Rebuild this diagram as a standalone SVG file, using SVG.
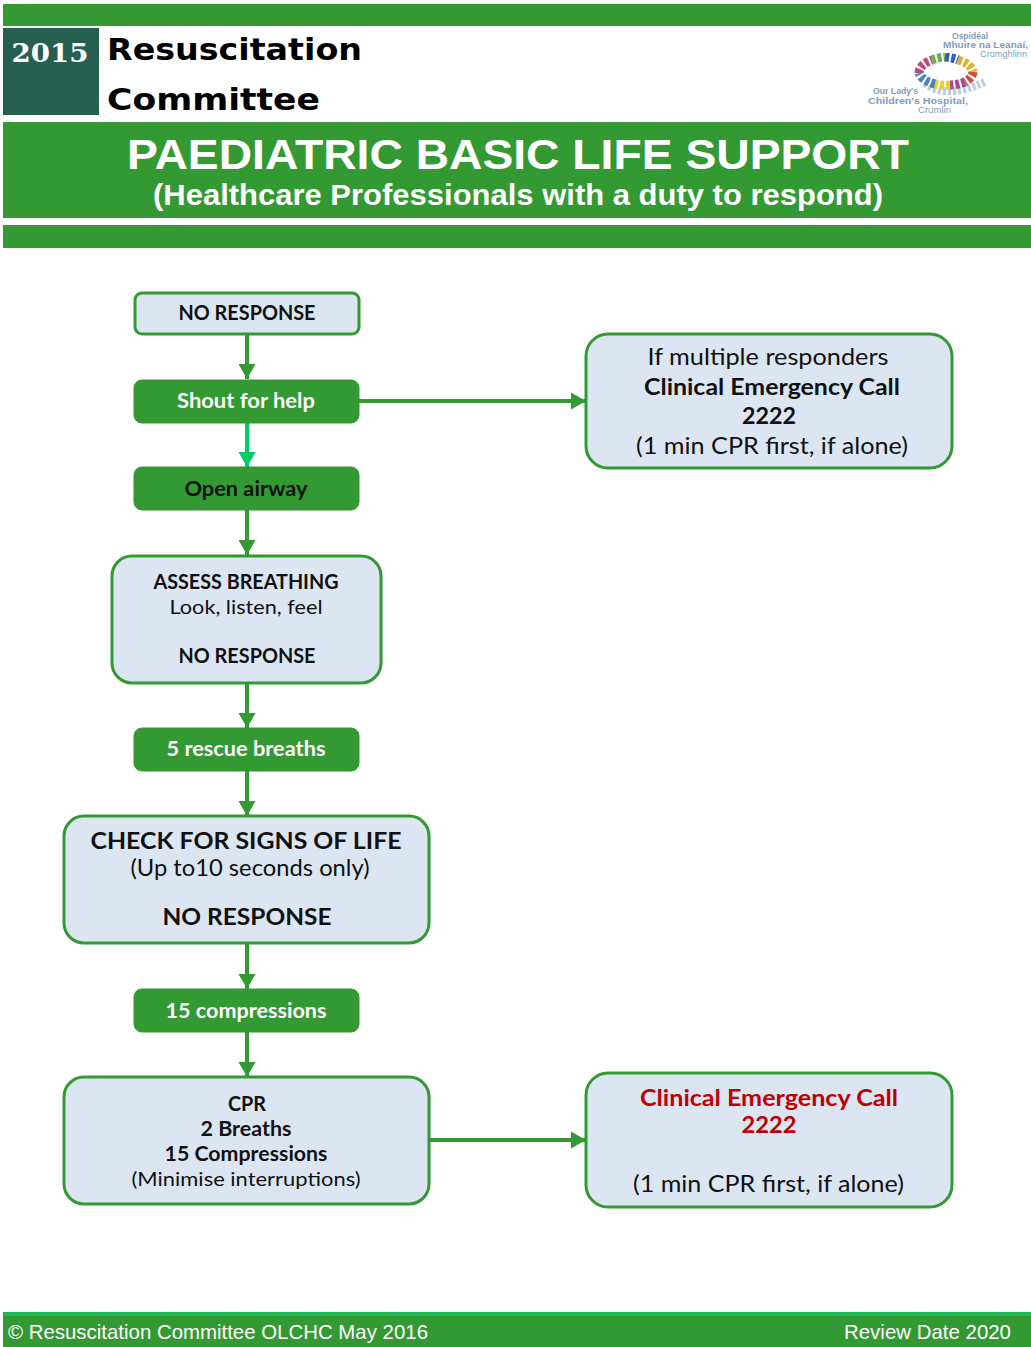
<svg xmlns="http://www.w3.org/2000/svg" width="1031" height="1347" viewBox="0 0 1031 1347">
<style>
.band{fill:#339933}
.lt{fill:#dce6f2;stroke:#339933;stroke-width:3}
.dk{fill:#339933;stroke:#339933;stroke-width:1}
text{font-family:"Lato","Liberation Sans",sans-serif;text-anchor:middle;fill:#111}
.b{font-weight:700}
.w{fill:#fff}
.c{stroke:#339933;stroke-width:4;fill:none}
.s20{font-size:20px}
.s24{font-size:23px}
.logo{font-family:"Liberation Sans",sans-serif;font-size:8.5px;fill:#7f9cc0;text-anchor:start}
</style>
<defs>
<marker id="a" markerUnits="userSpaceOnUse" markerWidth="16" markerHeight="18" refX="15" refY="9" orient="auto"><path d="M0 0.5L15 9L0 17.5Z" fill="#339933"/></marker>
<marker id="g" markerUnits="userSpaceOnUse" markerWidth="16" markerHeight="18" refX="15" refY="9" orient="auto"><path d="M0 0.5L15 9L0 17.5Z" fill="#00cc66"/></marker>
<filter id="soft" x="-10%" y="-10%" width="120%" height="120%"><feGaussianBlur stdDeviation="0.7"/></filter>
</defs>
<rect width="1031" height="1347" fill="#fff"/>
<g id="header">
<rect class="band" x="3" y="4" width="1028" height="22"/>
<rect x="3" y="28" width="96" height="87" fill="#265f50"/>
<text x="50" y="62" style="font-family:'DejaVu Serif','Liberation Serif',serif;font-weight:700;font-size:26px" class="w" textLength="77" lengthAdjust="spacingAndGlyphs">2015</text>
<text x="107" y="60" style="font-family:'DejaVu Sans',sans-serif;font-weight:700;font-size:31px;text-anchor:start;fill:#000" textLength="255" lengthAdjust="spacingAndGlyphs">Resuscitation</text>
<text x="107" y="110" style="font-family:'DejaVu Sans',sans-serif;font-weight:700;font-size:31px;text-anchor:start;fill:#000" textLength="213" lengthAdjust="spacingAndGlyphs">Committee</text>
<rect class="band" x="3" y="122" width="1028" height="96"/>
<text x="518" y="169" class="w" style="font-family:'Liberation Sans',sans-serif;font-weight:700;font-size:42px" textLength="782" lengthAdjust="spacingAndGlyphs">PAEDIATRIC BASIC LIFE SUPPORT</text>
<text x="518" y="205" class="w" style="font-family:'Liberation Sans',sans-serif;font-weight:700;font-size:29px" textLength="730" lengthAdjust="spacingAndGlyphs">(Healthcare Professionals with a duty to respond)</text>
<rect class="band" x="3" y="225" width="1028" height="23"/>
</g>
<g id="logo">
<text class="logo" x="952" y="39" font-weight="700" textLength="36" lengthAdjust="spacingAndGlyphs">Ospidéal</text>
<text class="logo" x="943" y="48" font-weight="700" textLength="85" lengthAdjust="spacingAndGlyphs">Mhuire na Leanaí,</text>
<text class="logo" x="980" y="57" textLength="47" lengthAdjust="spacingAndGlyphs">Cromghlinn</text>
<text class="logo" x="873" y="94" font-weight="700" textLength="45" lengthAdjust="spacingAndGlyphs">Our Lady's</text>
<text class="logo" x="868" y="104" font-weight="700" textLength="100" lengthAdjust="spacingAndGlyphs">Children's Hospital,</text>
<text class="logo" x="918" y="113" textLength="33" lengthAdjust="spacingAndGlyphs">Crumlin</text>
<g filter="url(#soft)">
<path d="M925 83Q945 100 985 82" fill="none" stroke="#b9cfe2" stroke-width="8" stroke-dasharray="3 2"/>
<g fill="none" stroke-width="9" stroke-dasharray="4 2">
<path d="M919 73A27 15 0 0 1 932 60" stroke="#c04a7a"/>
<path d="M932 60A27 15 0 0 1 945 57" stroke="#6bb04a"/>
<path d="M945 57A27 15 0 0 1 958 60" stroke="#3a5fb0"/>
<path d="M958 60A27 15 0 0 1 973 72" stroke="#e0b030"/>
<path d="M973 72A27 15 0 0 1 965 82" stroke="#c9503a"/>
<path d="M965 82A27 15 0 0 1 950 85" stroke="#a64a9a"/>
<path d="M950 85A27 15 0 0 1 935 84" stroke="#e8d030"/>
<path d="M935 84A27 15 0 0 1 919 73" stroke="#4a80c0"/>
</g>
</g>
</g>
<g id="connectors">
<path class="c" d="M247 334V379" marker-end="url(#a)"/>
<path d="M247 422V467" stroke="#00cc66" stroke-width="4" fill="none" marker-end="url(#g)"/>
<path class="c" d="M247 510V555" marker-end="url(#a)"/>
<path class="c" d="M247 683V728" marker-end="url(#a)"/>
<path class="c" d="M247 771V816" marker-end="url(#a)"/>
<path class="c" d="M247 943V989" marker-end="url(#a)"/>
<path class="c" d="M247 1031V1077" marker-end="url(#a)"/>
<path class="c" d="M359 401H586" marker-end="url(#a)"/>
<path class="c" d="M429 1140H586" marker-end="url(#a)"/>
</g>
<g id="n1"><rect class="lt" x="135" y="293" width="224" height="41" rx="7"/><text class="b s20" x="247" y="320" textLength="137" lengthAdjust="spacingAndGlyphs">NO RESPONSE</text></g>
<g id="n2"><rect class="dk" x="134" y="380" width="225" height="43" rx="8"/><text class="b s20 w" x="246" y="408" textLength="138" lengthAdjust="spacingAndGlyphs">Shout for help</text></g>
<g id="n3"><rect class="dk" x="134" y="467" width="225" height="43" rx="8"/><text class="b s20" x="246" y="496" textLength="123" lengthAdjust="spacingAndGlyphs">Open airway</text></g>
<g id="n4"><rect class="lt" x="112" y="556" width="269" height="127" rx="20"/>
<text class="b s20" x="246" y="589" textLength="185" lengthAdjust="spacingAndGlyphs">ASSESS BREATHING</text><text class="s20" x="246" y="614" textLength="153" lengthAdjust="spacingAndGlyphs">Look, listen, feel</text><text class="b s20" x="247" y="663" textLength="137" lengthAdjust="spacingAndGlyphs">NO RESPONSE</text></g>
<g id="n5"><rect class="dk" x="134" y="728" width="225" height="43" rx="8"/><text class="b s20 w" x="246" y="756" textLength="159" lengthAdjust="spacingAndGlyphs">5 rescue breaths</text></g>
<g id="n6"><rect class="lt" x="64" y="816" width="365" height="127" rx="20"/>
<text class="b s24" x="246" y="849" textLength="311" lengthAdjust="spacingAndGlyphs">CHECK FOR SIGNS OF LIFE</text><text class="s24" x="250" y="876" textLength="239" lengthAdjust="spacingAndGlyphs">(Up to10 seconds only)</text><text class="b s24" x="247" y="925" textLength="169" lengthAdjust="spacingAndGlyphs">NO RESPONSE</text></g>
<g id="n7"><rect class="dk" x="134" y="989" width="225" height="43" rx="8"/><text class="b s20 w" x="246" y="1018" textLength="161" lengthAdjust="spacingAndGlyphs">15 compressions</text></g>
<g id="n8"><rect class="lt" x="64" y="1077" width="365" height="127" rx="20"/>
<text class="b s20" x="247" y="1111" textLength="38" lengthAdjust="spacingAndGlyphs">CPR</text><text class="b s20" x="246" y="1136" textLength="91" lengthAdjust="spacingAndGlyphs">2 Breaths</text><text class="b s20" x="246" y="1161" textLength="163" lengthAdjust="spacingAndGlyphs">15 Compressions</text><text class="s20" x="246" y="1186" textLength="229" lengthAdjust="spacingAndGlyphs">(Minimise interruptions)</text></g>
<g id="n9"><rect class="lt" x="586" y="334" width="366" height="134" rx="22"/>
<text class="s24" x="768" y="365" textLength="241" lengthAdjust="spacingAndGlyphs">If multiple responders</text><text class="b s24" x="772" y="395" textLength="256" lengthAdjust="spacingAndGlyphs">Clinical Emergency Call</text><text class="b s24" x="769" y="424" textLength="54" lengthAdjust="spacingAndGlyphs">2222</text><text class="s24" x="772" y="454" textLength="272" lengthAdjust="spacingAndGlyphs">(1 min CPR first, if alone)</text></g>
<g id="n10"><rect class="lt" x="586" y="1073" width="366" height="134" rx="22"/>
<text class="b s24" x="769" y="1106" style="fill:#c00000" textLength="258" lengthAdjust="spacingAndGlyphs">Clinical Emergency Call</text><text class="b s24" x="769" y="1133" style="fill:#c00000" textLength="55" lengthAdjust="spacingAndGlyphs">2222</text><text class="s24" x="768.500" y="1192" textLength="271" lengthAdjust="spacingAndGlyphs">(1 min CPR first, if alone)</text></g>
<g id="footer">
<rect x="3" y="1312" width="1028" height="35" class="band"/>
<rect x="3" y="1312" width="1028" height="4" fill="#1db954"/>
<text x="8" y="1339" class="w" style="font-family:'Liberation Sans',sans-serif;font-size:21px;text-anchor:start" textLength="420" lengthAdjust="spacingAndGlyphs">© Resuscitation Committee OLCHC May 2016</text>
<text x="1011" y="1339" class="w" style="font-family:'Liberation Sans',sans-serif;font-size:21px;text-anchor:end" textLength="167" lengthAdjust="spacingAndGlyphs">Review Date 2020</text>
</g>
</svg>
